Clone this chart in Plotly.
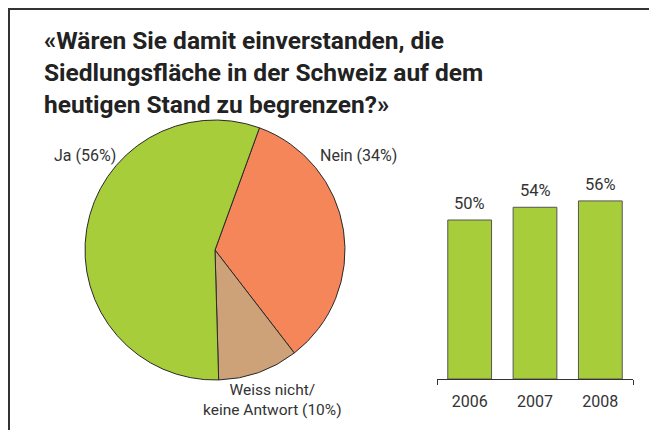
import plotly.graph_objects as go

# Pie data
pie_labels = ["Nein", "Weiss nicht/<br>keine Antwort", "Ja"]
pie_values = [34, 10, 56]
pie_colors = ["#f4865a", "#cea279", "#a8cd3b"]

# Bar data
years = ["2006", "2007", "2008"]
ja_share = [50, 54, 56]
bar_color = "#a8cd3b"

title_lines = [
    "«Wären Sie damit einverstanden, die",
    "Siedlungsfläche in der Schweiz auf dem",
    "heutigen Stand zu begrenzen?»",
]

W, H = 657, 430
OX, OY = 8, 8  # page body margin
TXT = "#333333"
FONT = "Roboto, sans-serif"

def px_x(x):
    return (x - OX) / W

def px_y(y):
    return 1 - (y - OY) / H

fig = go.Figure()

fig.add_trace(go.Pie(
    labels=pie_labels,
    values=pie_values,
    sort=False,
    direction="clockwise",
    rotation=20,
    marker=dict(colors=pie_colors, line=dict(color="#2a2a2a", width=1)),
    textinfo="none",
    hoverinfo="label+percent",
    showlegend=False,
    domain=dict(x=[px_x(85), px_x(345)], y=[px_y(380), px_y(120)]),
))

fig.add_trace(go.Bar(
    x=years,
    y=ja_share,
    marker=dict(color=bar_color, line=dict(color="#555555", width=1)),
    width=0.67,
    showlegend=False,
    xaxis="x", yaxis="y",
))

# bar value labels (category index positions)
for i, v in enumerate(ja_share):
    fig.add_annotation(x=i, y=v, xref="x", yref="y", text=f"{v}%", showarrow=False,
                       yanchor="bottom", xanchor="center", yshift=5,
                       font=dict(size=16.5, color=TXT, family=FONT))

# invisible trace for axis end ticks
fig.add_trace(go.Scatter(x=[None], y=[None], xaxis="x2", yaxis="y", showlegend=False))

ybase = px_y(379)
fig.update_layout(
    width=W, height=H,
    margin=dict(l=0, r=0, t=0, b=0),
    paper_bgcolor="white", plot_bgcolor="white",
    xaxis=dict(domain=[px_x(437), px_x(633)], range=[-0.5, 2.5], type="category",
               showline=True, linecolor="#333333", linewidth=1, ticks="",
               ticklabelstandoff=8,
               tickfont=dict(size=16, color=TXT, family=FONT), showgrid=False,
               zeroline=False, fixedrange=True),
    xaxis2=dict(domain=[px_x(437), px_x(633)], range=[-0.5, 2.5], overlaying="x",
                anchor="y", tickvals=[-0.5, 2.5], ticks="outside", ticklen=5,
                tickcolor="#333333", showticklabels=False, showgrid=False,
                zeroline=False, showline=False),
    yaxis=dict(domain=[ybase, ybase + 190.8 / H], range=[0, 60], visible=False,
               showgrid=False, zeroline=False),
)

# Title
fig.add_annotation(
    text="<br>".join(f"<b>{t}</b>" for t in title_lines), xref="paper", yref="paper",
    x=px_x(42), y=px_y(24), xanchor="left", yanchor="top", align="left",
    showarrow=False, font=dict(size=24.5, color="#222222", family=FONT),
)

# Pie labels
lab_ja = f"Ja ({pie_values[2]}%)"
lab_nein = f"Nein ({pie_values[0]}%)"
lab_wn = f"{pie_labels[1]} ({pie_values[1]}%)"
fig.add_annotation(text=lab_ja, xref="paper", yref="paper", x=px_x(52), y=px_y(155),
                   xanchor="left", yanchor="middle", showarrow=False,
                   font=dict(size=16, color=TXT, family=FONT))
fig.add_annotation(text=lab_nein, xref="paper", yref="paper", x=px_x(318), y=px_y(155),
                   xanchor="left", yanchor="middle", showarrow=False,
                   font=dict(size=16, color=TXT, family=FONT))
fig.add_annotation(text=lab_wn, xref="paper", yref="paper", x=px_x(272), y=px_y(400),
                   xanchor="center", yanchor="middle", align="center", showarrow=False,
                   font=dict(size=15.5, color=TXT, family=FONT))

# Frame
fig.add_shape(type="line", xref="paper", yref="paper", x0=0, x1=1, y0=1 - 1 / H, y1=1 - 1 / H,
              line=dict(color="#333333", width=2))
fig.add_shape(type="line", xref="paper", yref="paper", x0=1 / W, x1=1 / W, y0=1, y1=0,
              line=dict(color="#333333", width=2))

fig.write_html("out.html")
